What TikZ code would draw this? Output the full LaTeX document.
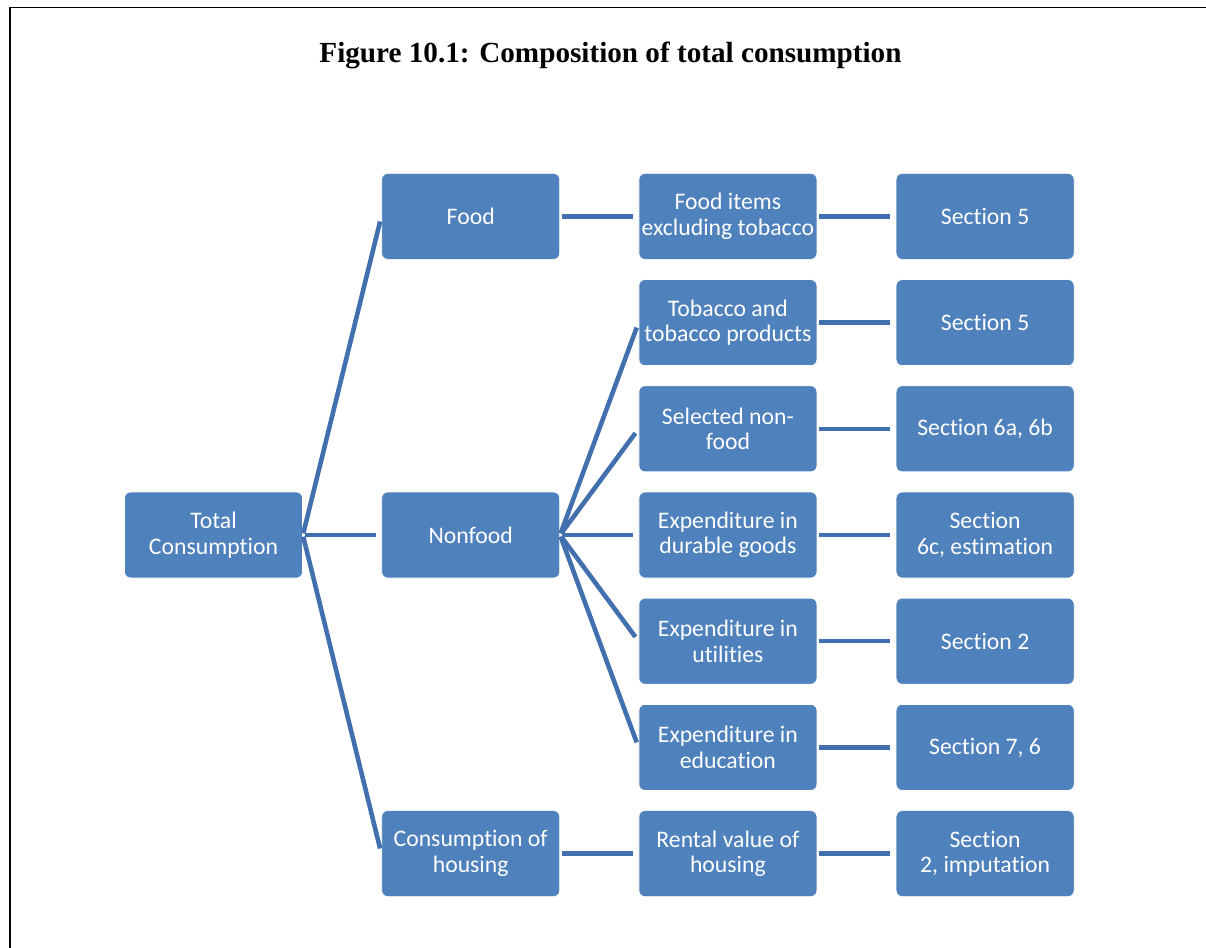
\documentclass[tikz,border=0pt]{standalone}
\usepackage{fontspec}
\setmainfont{Liberation Serif}
\newfontfamily\boxfont[Ligatures=NoCommon]{Carlito}
\usetikzlibrary{positioning}

\definecolor{boxblue}{RGB}{79,129,189}
\definecolor{linkblue}{RGB}{66,112,174}

\tikzset{
	item/.style={rectangle, rounded corners=0.12cm, fill=boxblue, draw=white, thin,
		minimum width=3.56cm, minimum height=1.72cm, inner sep=0pt,
		text=white, align=center, font=\boxfont\fontsize{13.5}{14.5}\selectfont},
	link/.style={draw=linkblue, line width=2.6pt, shorten <=1pt, shorten >=3pt}
}

\begin{document}
\begin{tikzpicture}[node distance=0.39cm and 1.57cm]
	\useasboundingbox (0,0) rectangle (24.12,-18.96);
	\draw[line width=1.1pt] (0.2,-18.96) -- (0.2,-0.15) -- (24.12,-0.15);

	\node[anchor=base, font=\bfseries\fontsize{16.6}{20}\selectfont] (title) at (12.21,-1.25)
		{Figure 10.1: Composition of total consumption};

	\node[item] (total) at (4.27,-10.70) {Total\\Consumption};
	\node[item, right=of total] (nonfood) {Nonfood};

	\node[item, right=of nonfood] (durables) {Expenditure in\\durable goods};
	\node[item, above=of durables] (nonfoodsel) {Selected non-\\food};
	\node[item, above=of nonfoodsel] (tobacco) {Tobacco and\\tobacco products};
	\node[item, above=of tobacco] (fooditems) {Food items\\excluding tobacco};
	\node[item, below=of durables] (utilities) {Expenditure in\\utilities};
	\node[item, below=of utilities] (education) {Expenditure in\\education};
	\node[item, below=of education] (rental) {Rental value of\\housing};

	\node[item, left=of fooditems] (food) {Food};
	\node[item, left=of rental] (housing) {Consumption of\\housing};

	\node[item, right=of fooditems] (s5a) {Section 5};
	\node[item, right=of tobacco] (s5b) {Section 5};
	\node[item, right=of nonfoodsel] (s6ab) {Section 6a, 6b};
	\node[item, right=of durables] (s6c) {Section\\6c, estimation};
	\node[item, right=of utilities] (s2) {Section 2};
	\node[item, right=of education] (s76) {Section 7, 6};
	\node[item, right=of rental] (s2imp) {Section\\2, imputation};

	% total consumption split
	\draw[link] (total.east) -- (food.west);
	\draw[link] (total.east) -- (nonfood.west);
	\draw[link] (total.east) -- (housing.west);

	% second level
	\draw[link] (food.east) -- (fooditems.west);
	\foreach \c in {tobacco, nonfoodsel, durables, utilities, education}
		\draw[link] (nonfood.east) -- (\c.west);
	\draw[link] (housing.east) -- (rental.west);

	% sources in the questionnaire
	\draw[link] (fooditems.east) -- (s5a.west);
	\draw[link] (tobacco.east) -- (s5b.west);
	\draw[link] (nonfoodsel.east) -- (s6ab.west);
	\draw[link] (durables.east) -- (s6c.west);
	\draw[link] (utilities.east) -- (s2.west);
	\draw[link] (education.east) -- (s76.west);
	\draw[link] (rental.east) -- (s2imp.west);
\end{tikzpicture}
\end{document}
